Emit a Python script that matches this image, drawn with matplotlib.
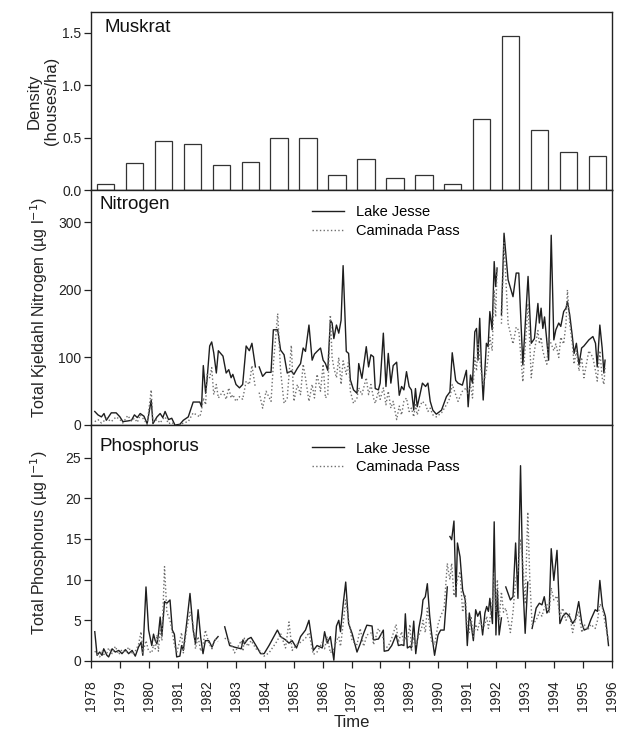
import numpy as np
import matplotlib
matplotlib.use("Agg")
import matplotlib.pyplot as plt

plt.rcParams['font.family'] = ['Liberation Sans', 'DejaVu Sans']

# ---------------- data ----------------
muskrat_years = [1978, 1979, 1980, 1981, 1982, 1983, 1984, 1985, 1986,
                 1987, 1988, 1989, 1990, 1991, 1992, 1993, 1994, 1995]
muskrat_density = [0.06, 0.26, 0.47, 0.44, 0.24, 0.27, 0.50, 0.50, 0.14,
                   0.30, 0.11, 0.14, 0.06, 0.68, 1.47, 0.57, 0.36, 0.32]

nan = np.nan
n_time = [1978.13, 1978.24, 1978.36, 1978.45, 1978.53, 1978.70, 1978.87, 1979.00, 1979.10, 1979.27,
          1979.40, 1979.50, 1979.60, 1979.70, 1979.83, 1979.94, 1980.08, 1980.14, 1980.28, 1980.39,
          1980.48, 1980.56, 1980.68, 1980.79, 1980.90, 1981.07, 1981.19, 1981.36, 1981.53, 1981.76,
          1981.82, 1981.88, 1981.96, 1982.01, 1982.10, 1982.17, 1982.24, 1982.33, 1982.40, 1982.56,
          1982.67, 1982.76, 1982.84, 1982.90, 1983.01, 1983.13, 1983.24, 1983.36, 1983.47, 1983.56,
          1983.68, 1983.75, 1983.81, 1983.93, 1984.05, 1984.22, 1984.30, 1984.45, 1984.55, 1984.67,
          1984.78, 1984.92, 1985.01, 1985.13, 1985.24, 1985.33, 1985.41, 1985.53, 1985.64, 1985.72,
          1985.81, 1985.93, 1986.02, 1986.10, 1986.18, 1986.27, 1986.33, 1986.39, 1986.48, 1986.56,
          1986.64, 1986.71, 1986.82, 1986.90, 1986.96, 1987.07, 1987.19, 1987.25, 1987.36, 1987.51,
          1987.59, 1987.67, 1987.76, 1987.82, 1987.93, 1987.99, 1988.10, 1988.19, 1988.27, 1988.36,
          1988.44, 1988.56, 1988.65, 1988.73, 1988.81, 1988.90, 1988.99, 1989.07, 1989.15, 1989.21,
          1989.27, 1989.36, 1989.45, 1989.56, 1989.64, 1989.72, 1989.81, 1989.93, 1990.11, 1990.28,
          1990.40, 1990.48, 1990.60, 1990.68, 1990.83, 1990.97, 1991.03, 1991.11, 1991.18, 1991.26,
          1991.32, 1991.37, 1991.43, 1991.49, 1991.55, 1991.66, 1991.72, 1991.78, 1991.86, 1991.93,
          1991.98, 1992.03, 1992.10, 1992.18, 1992.27, 1992.41, 1992.58, 1992.69, 1992.78, 1992.92,
          1993.10, 1993.21, 1993.32, 1993.44, 1993.49, 1993.55, 1993.61, 1993.67, 1993.75, 1993.81,
          1993.90, 1993.99, 1994.06, 1994.16, 1994.23, 1994.33, 1994.41, 1994.46, 1994.54, 1994.63,
          1994.69, 1994.77, 1994.86, 1994.95, 1995.03, 1995.20, 1995.34, 1995.43, 1995.49, 1995.58,
          1995.66, 1995.72, 1995.76]
n_jesse = [20, 15, 12, 17, 7, 18, 18, 12, 5, 6,
           7, 15, 11, 17, 13, 2, 37, 2, 12, 17,
           11, 20, 8, 10, 0, 1, 7, 12, 34, 34,
           27, 88, 47, 67, 117, 123, 107, 77, 110, 102,
           77, 82, 70, 75, 60, 55, 60, 117, 110, 121,
           86, nan, 86, 72, 78, 78, 141, 141, 111, 104,
           77, 80, 75, 84, 91, 114, 109, 148, 96, 105,
           109, 114, 96, 91, 81, 155, 151, 128, 148, 136,
           155, 236, 109, 106, 67, 52, 47, 91, 69, 116,
           86, 104, 101, 54, 52, 62, 136, 57, 106, 62,
           88, 93, 44, 57, 52, 79, 57, 52, 22, 54,
           27, 44, 62, 57, 62, 35, 22, 16, 22, 42,
           49, 107, 66, 62, 59, 81, 27, 74, 62, 138,
           143, 96, 158, 86, 37, 121, 116, 168, 141, 242,
           205, 232, nan, 163, 284, 215, 190, 225, 225, 89,
           220, 121, 128, 180, 151, 173, 143, 160, 123, 96,
           281, 126, 141, 151, 146, 168, 173, 183, 163, 131,
           106, 121, 89, 114, 117, 126, 131, 121, 86, 148,
           114, 77, 96]
n_caminada = [5, 8, 3, 6, 10, 5, 12, 8, 3, 14,
              6, 10, 4, 15, 8, 1, 52, 5, 8, 3,
              9, 12, 2, 4, 0, 0, 3, 5, 18, 12,
              22, 40, 30, 75, 70, 85, 45, 60, 40, 50,
              38, 55, 40, 45, 35, 42, 38, 65, 60, 88,
              55, nan, 48, 25, 50, 35, 90, 165, 80, 32,
              40, 118, 35, 60, 45, 90, 70, 35, 60, 40,
              75, 50, 90, 40, 45, 163, 100, 85, 70, 100,
              60, 95, 75, 95, 50, 32, 40, 55, 45, 70,
              45, 60, 40, 32, 50, 38, 55, 30, 50, 25,
              35, 8, 28, 15, 35, 40, 20, 25, 12, 30,
              15, 28, 35, 30, 20, 25, 15, 12, 18, 30,
              40, 60, 45, 35, 50, 55, 45, 60, 40, 100,
              80, 120, 100, 75, 60, 80, 100, 130, 110, 200,
              160, 235, nan, 150, 270, 150, 120, 145, 140, 64,
              180, 70, 110, 140, 120, 130, 110, 100, 90, 130,
              120, 110, 120, 100, 130, 120, 150, 200, 150, 120,
              90, 110, 80, 100, 70, 110, 100, 80, 65, 110,
              70, 60, 85]

p_time = [1978.13, 1978.21, 1978.30, 1978.38, 1978.44, 1978.55, 1978.61, 1978.73, 1978.84, 1978.96,
          1979.07, 1979.19, 1979.30, 1979.42, 1979.53, 1979.64, 1979.73, 1979.79, 1979.90, 1979.99,
          1980.10, 1980.16, 1980.22, 1980.28, 1980.33, 1980.39, 1980.45, 1980.54, 1980.62, 1980.73,
          1980.81, 1980.88, 1980.96, 1981.07, 1981.13, 1981.19, 1981.30, 1981.42, 1981.53, 1981.61,
          1981.70, 1981.79, 1981.87, 1981.95, 1982.07, 1982.18, 1982.27, 1982.39, 1982.50, 1982.62,
          1982.79, 1982.96, 1983.19, 1983.25, 1983.30, 1983.42, 1983.53, 1983.70, 1983.86, 1983.98,
          1984.15, 1984.44, 1984.55, 1984.72, 1984.84, 1984.95, 1985.10, 1985.24, 1985.41, 1985.53,
          1985.68, 1985.81, 1985.99, 1986.07, 1986.16, 1986.27, 1986.39, 1986.48, 1986.56, 1986.62,
          1986.71, 1986.80, 1986.90, 1987.02, 1987.19, 1987.30, 1987.42, 1987.53, 1987.71, 1987.76,
          1987.93, 1988.10, 1988.13, 1988.27, 1988.39, 1988.54, 1988.62, 1988.73, 1988.81, 1988.86,
          1988.93, 1989.02, 1989.07, 1989.15, 1989.22, 1989.33, 1989.42, 1989.47, 1989.55, 1989.62,
          1989.70, 1989.76, 1989.87, 1989.99, 1990.08, 1990.20, 1990.31, 1990.35, 1990.40, 1990.46,
          1990.54, 1990.61, 1990.66, 1990.75, 1990.84, 1990.93, 1991.00, 1991.07, 1991.13, 1991.21,
          1991.29, 1991.36, 1991.44, 1991.53, 1991.61, 1991.67, 1991.73, 1991.78, 1991.87, 1991.93,
          1991.99, 1992.04, 1992.10, 1992.18, 1992.25, 1992.33, 1992.49, 1992.58, 1992.67, 1992.75,
          1992.84, 1992.92, 1993.00, 1993.09, 1993.16, 1993.24, 1993.38, 1993.49, 1993.58, 1993.66,
          1993.75, 1993.83, 1993.90, 1993.99, 1994.10, 1994.20, 1994.30, 1994.41, 1994.53, 1994.64,
          1994.73, 1994.85, 1994.96, 1995.04, 1995.16, 1995.27, 1995.42, 1995.50, 1995.58, 1995.67,
          1995.77, 1995.88]
p_jesse = [3.6, 0.7, 1.1, 0.7, 1.5, 0.7, 0.5, 1.5, 1.1, 1.3,
           0.9, 1.4, 0.9, 1.3, 0.6, 1.7, 2.3, 0.7, 9.1, 3.8,
           1.9, 3.3, 2.5, 2.1, 3.3, 5.4, 3.1, 7.3, 7.1, 7.5,
           3.8, 3.3, 0.5, 0.6, 1.9, 1.3, 4.5, 8.3, 3.8, 2.1,
           6.3, 2.9, 0.9, 2.5, 2.5, 1.7, 2.5, 3.0, nan, 4.2,
           1.9, 1.7, 1.5, 2.6, 2.1, 2.7, 2.9, 1.9, 0.9, 0.9,
           1.9, 3.8, 3.0, 2.6, 2.2, 2.5, 1.6, 3.0, 3.8, 5.0,
           1.3, 1.9, 1.6, 3.6, 2.2, 3.0, 0.1, 4.3, 5.0, 3.6,
           6.9, 9.7, 4.6, 3.4, 1.1, 2.1, 3.4, 4.4, 4.3, 2.6,
           2.7, 3.8, 1.2, 1.3, 1.9, 3.2, 1.9, 2.0, 1.9, 5.8,
           1.6, 1.8, 1.6, 4.9, 0.9, 4.1, 5.8, 7.5, 7.9, 9.5,
           5.6, 3.6, 0.7, 3.2, 3.8, 3.8, 9.1, nan, 15.3, 14.9,
           17.2, 7.9, 14.5, 12.8, 8.7, 7.5, 1.9, 5.9, 4.6, 2.5,
           6.3, 5.5, 6.1, 3.2, 5.9, 6.7, 6.1, 7.7, 4.6, 17.1,
           3.2, 8.7, 3.2, 5.3, nan, 9.1, 7.5, 7.9, 14.5, 7.7,
           24.0, 9.5, 3.4, 9.7, nan, 4.0, 6.5, 7.1, 6.9, 7.9,
           5.9, 6.3, 13.8, 9.9, 13.6, 4.6, 5.5, 5.9, 5.5, 4.6,
           5.1, 7.3, 4.6, 3.8, 4.0, 5.1, 6.3, 6.1, 9.9, 6.7,
           5.5, 1.9]
p_caminada = [1.2, 0.9, 0.5, 1.3, 0.8, 1.0, 1.6, 0.9, 1.8, 0.8,
              1.4, 1.0, 1.7, 0.8, 1.2, 2.0, 3.6, 1.0, 2.5, 1.2,
              1.0, 2.0, 1.5, 3.2, 1.2, 4.0, 2.5, 11.6, 6.0, 5.0,
              3.5, 2.0, 1.0, 2.5, 3.5, 1.0, 3.8, 6.0, 4.5, 1.5,
              3.0, 1.2, 2.0, 3.8, 2.2, 1.5, 2.7, 2.4, nan, 2.8,
              2.5, 1.0, 2.5, 1.2, 2.8, 1.8, 2.5, 1.5, 1.2, 0.6,
              1.0, 2.5, 3.4, 1.6, 4.8, 1.3, 2.0, 2.3, 2.8, 3.5,
              0.8, 1.1, 2.3, 1.5, 3.0, 1.0, 1.5, 2.5, 3.0, 1.8,
              4.5, 7.5, 5.0, 2.5, 2.0, 4.0, 1.8, 3.2, 3.5, 2.0,
              4.0, 2.8, 1.5, 1.8, 2.8, 4.5, 2.3, 3.6, 2.2, 3.0,
              2.5, 4.5, 1.2, 3.0, 2.0, 3.2, 4.0, 5.0, 3.5, 6.5,
              4.2, 2.5, 2.0, 4.5, 5.5, 6.5, 12.0, 11.0, 10.0, 12.0,
              8.0, 9.0, 10.0, 11.0, 6.0, 8.0, 4.0, 3.5, 5.5, 3.0,
              4.5, 3.8, 5.0, 4.0, 4.5, 5.5, 4.0, 5.0, 7.5, 10.8,
              6.0, 10.0, 5.0, 8.5, 6.0, 6.5, 3.5, 6.0, 10.0, 11.0,
              15.0, 12.0, 7.0, 18.3, 10.0, 4.5, 5.0, 6.0, 5.5, 6.5,
              7.0, 6.0, 9.0, 7.5, 8.0, 5.5, 6.5, 5.0, 5.8, 3.5,
              5.0, 6.0, 3.5, 4.5, 3.8, 4.5, 4.0, 5.0, 7.0, 6.5,
              4.5, 2.5]

year_ticks = list(range(1978, 1997))

# ---------------- figure ----------------
W, H = 619, 732
fig = plt.figure(figsize=(W / 100, H / 100), dpi=100)
x0, x1 = 91, 612

def add_axes(top, bottom):
    return fig.add_axes([x0 / W, 1 - bottom / H, (x1 - x0) / W, (bottom - top) / H])

ax1 = add_axes(12, 190)
ax2 = add_axes(190, 425)
ax3 = add_axes(425, 661)

solid_c = '#1e1e1e'
dot_c = '#6e6e6e'
tick_fs = 10

for ax in (ax1, ax2, ax3):
    ax.set_xlim(1978, 1996)
    for s in ax.spines.values():
        s.set_linewidth(1.0)
        s.set_color('#222222')
    ax.tick_params(axis='y', direction='out', length=5, width=0.9, pad=2,
                   labelsize=tick_fs, colors='#222222')

# Muskrat bars
ax1.bar(np.array(muskrat_years) + 0.5, muskrat_density, width=0.6,
        facecolor='white', edgecolor='#333333', linewidth=0.9)
ax1.set_ylim(0, 1.7)
ax1.set_yticks([0.0, 0.5, 1.0, 1.5])
ax1.set_yticklabels(['0.0', '0.5', '1.0', '1.5'])
ax1.set_xticks([])
ax1.text(0.025, 0.96, 'Muskrat', transform=ax1.transAxes, fontsize=13.5,
         va='top', ha='left', color='#111111')
ax1.set_ylabel('Density\n(houses/ha)', fontsize=12, linespacing=1.2, color='#222222')
ax1.yaxis.set_label_coords(-0.062, 0.5)

# Nitrogen
ax2.plot(n_time, n_jesse, color=solid_c, lw=1.0, label='Lake Jesse')
ax2.plot(n_time, n_caminada, color=dot_c, lw=1.0, ls=':', label='Caminada Pass')
ax2.set_ylim(0, 348)
ax2.set_yticks([0, 100, 200, 300])
ax2.set_xticks([])
ax2.text(0.017, 0.975, 'Nitrogen', transform=ax2.transAxes, fontsize=13.5,
         va='top', ha='left', color='#111111')
ax2.set_ylabel('Total Kjeldahl Nitrogen (µg l$^{-1}$)', fontsize=11.5, color='#222222')
ax2.yaxis.set_label_coords(-0.079, 0.5)
ax2.legend(loc='upper left', bbox_to_anchor=(0.424, 0.935), frameon=False,
           fontsize=10.5, handlelength=2.2, handletextpad=0.8, labelspacing=0.3,
           borderpad=0, borderaxespad=0)

# Phosphorus
ax3.plot(p_time, p_jesse, color=solid_c, lw=1.0, label='Lake Jesse')
ax3.plot(p_time, p_caminada, color=dot_c, lw=1.0, ls=':', label='Caminada Pass')
ax3.set_ylim(0, 29)
ax3.set_yticks([0, 5, 10, 15, 20, 25])
ax3.set_xticks(year_ticks)
ax3.set_xticklabels([str(y) for y in year_ticks], rotation=90)
ax3.tick_params(axis='x', direction='out', length=5, width=0.9, pad=9,
                labelsize=tick_fs, colors='#222222')
ax3.text(0.017, 0.945, 'Phosphorus', transform=ax3.transAxes, fontsize=13.5,
         va='top', ha='left', color='#111111')
ax3.set_ylabel('Total Phosphorus (µg l$^{-1}$)', fontsize=11.5, color='#222222')
ax3.yaxis.set_label_coords(-0.079, 0.5)
ax3.set_xlabel('Time', fontsize=12, color='#222222', labelpad=3)
ax3.legend(loc='upper left', bbox_to_anchor=(0.424, 0.93), frameon=False,
           fontsize=10.5, handlelength=2.2, handletextpad=0.8, labelspacing=0.3,
           borderpad=0, borderaxespad=0)

fig.savefig('out.png', dpi=100)
